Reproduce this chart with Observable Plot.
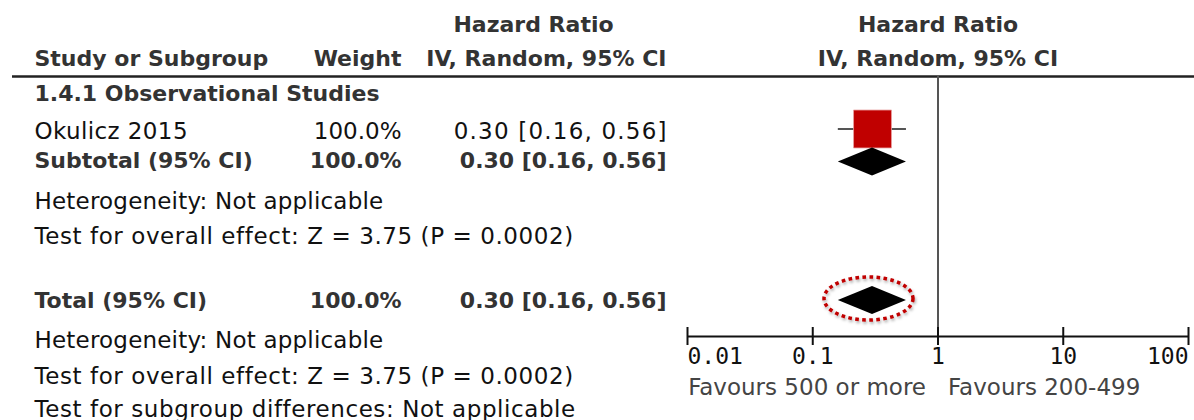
<!DOCTYPE html>
<html><head><meta charset="utf-8">
<script src="https://cdn.jsdelivr.net/npm/d3@7"></script>
<script src="https://cdn.jsdelivr.net/npm/@observablehq/plot@0.6"></script>
<style>
html,body{margin:0;padding:0;background:#fff;}
#chart svg{display:block;}
</style></head><body><div id="chart"></div>
<script>
// ---------- data ----------
const headerTitle = "Hazard Ratio";
const headerMethod = "IV, Random, 95% CI";
const headerStudy = "Study or Subgroup";
const headerWeight = "Weight";
const groupLabel = "1.4.1 Observational Studies";

const studyNames = ["Okulicz 2015"];
const studyWeights = ["100.0%"];
const studyHR = [0.30];
const studyLower = [0.16];
const studyUpper = [0.56];

const summaryNames = ["Subtotal (95% CI)", "Total (95% CI)"];
const summaryWeights = ["100.0%", "100.0%"];
const summaryHR = [0.30, 0.30];
const summaryLower = [0.16, 0.16];
const summaryUpper = [0.56, 0.56];

const heterogeneityText = "Heterogeneity: Not applicable";
const overallEffectText = "Test for overall effect: Z = 3.75 (P = 0.0002)";
const subgroupText = "Test for subgroup differences: Not applicable";

const axisTicks = [0.01, 0.1, 1, 10, 100];
const axisTickLabels = ["0.01", "0.1", "1", "10", "100"];
const favoursLeft = "Favours 500 or more";
const favoursRight = "Favours 200-499";

// ---------- layout (row positions & column offsets) ----------
const ROW = {head1: 24, head2: 58, rule: 76, group: 93, study: 131, studyMark: 128.5,
             subtotal: 160, subtotalMark: 161.5,
             het1: 201, test1: 236, total: 300, het2: 340, test2: 376, subgroup: 409,
             axis: 336, fav: 387};
const COL = {study: 34, weight: 401, ci: 666, hrHead: 533};
const DIAMOND_HALF = 14;
const BOLD = {fontWeight: "bold", fontSize: 22, fill: "#333"};
const NORM = {fontSize: 23, fill: "#111"};
const CI_SPACING = 1.2;

const fmt = (e, l, u) => `${e.toFixed(2)} [${l.toFixed(2)}, ${u.toFixed(2)}]`;
const studyIdx = d3.range(studyNames.length);
const summaryRows = [ROW.subtotal, ROW.total];
const summaryMarkRows = [ROW.subtotalMark, ROW.total];

const diamondPts = [];
summaryHR.forEach((e, i) => {
  diamondPts.push({id: i, x: summaryLower[i], h: 0, row: summaryMarkRows[i]});
  diamondPts.push({id: i, x: e, h: DIAMOND_HALF, row: summaryMarkRows[i]});
  diamondPts.push({id: i, x: summaryUpper[i], h: 0, row: summaryMarkRows[i]});
});

const ellipseSymbol = {
  draw(ctx) {
    const rx = 44.5, ry = 21.5, k = 0.5523;
    ctx.moveTo(rx, 0);
    ctx.bezierCurveTo(rx, ry * k, rx * k, ry, 0, ry);
    ctx.bezierCurveTo(-rx * k, ry, -rx, ry * k, -rx, 0);
    ctx.bezierCurveTo(-rx, -ry * k, -rx * k, -ry, 0, -ry);
    ctx.bezierCurveTo(rx * k, -ry, rx, -ry * k, rx, 0);
    ctx.closePath();
  }
};

const leftText = (text, row, style, anchor = "start", dx = COL.study) =>
  Plot.text([text], {text: d => d, y: row, frameAnchor: "left", textAnchor: anchor, dx, ...style});

const tickText = (filter, anchor) =>
  Plot.text(axisTicks.filter(filter), {x: d => d, y: ROW.axis, dy: 20, text: d => axisTickLabels[axisTicks.indexOf(d)], textAnchor: anchor, fontFamily: "DejaVu Sans Mono", fontSize: 23, fill: "#111"});

const plot = Plot.plot({
  width: 1194, height: 420,
  marginTop: 0, marginRight: 0, marginBottom: 0, marginLeft: 0,
  x: {type: "log", domain: [0.01, 100], range: [687, 1188], axis: null},
  y: {domain: [0, 420], range: [0, 420], axis: null},
  style: {fontFamily: "DejaVu Sans", background: "#fff", overflow: "visible"},
  marks: [
    // header rule
    Plot.ruleY([ROW.rule], {insetLeft: 12, stroke: "#222", strokeWidth: 2.5}),
    // line of no effect
    Plot.ruleX([1], {y1: ROW.rule, y2: ROW.axis, stroke: "#555", strokeWidth: 2}),
    // axis
    Plot.ruleY([ROW.axis], {x1: axisTicks[0], x2: axisTicks[axisTicks.length - 1], stroke: "#111", strokeWidth: 2}),
    Plot.ruleX(axisTicks, {x: d => d, y1: ROW.axis - 9, y2: ROW.axis + 9, stroke: "#111", strokeWidth: 2}),
    tickText((d, i) => i === 0, "start"),
    tickText((d, i) => i > 0 && i < axisTicks.length - 1, "middle"),
    tickText((d, i) => i === axisTicks.length - 1, "end"),
    Plot.text([favoursLeft], {x: 1, y: ROW.fav, text: d => d, textAnchor: "end", dx: -12, fontSize: 23, fill: "#444"}),
    Plot.text([favoursRight], {x: 1, y: ROW.fav, text: d => d, textAnchor: "start", dx: 10, fontSize: 23, fill: "#444"}),
    // study CI + square
    Plot.ruleY(studyIdx, {y: ROW.studyMark, x1: i => studyLower[i], x2: i => studyUpper[i], stroke: "#555", strokeWidth: 2}),
    Plot.dot(studyIdx, {x: i => studyHR[i], y: ROW.studyMark, symbol: "square", r: 21.4, fill: "#c00000", stroke: "#e8a0a0", strokeWidth: 0.8}),
    // diamonds
    Plot.areaY(diamondPts, {x: "x", y1: d => d.row - d.h, y2: d => d.row + d.h, z: "id", fill: "#000", curve: "linear"}),
    // highlight ellipse around total diamond
    Plot.dot([1], {x: i => summaryHR[i], y: ROW.total, dx: -4, dy: -2, symbol: ellipseSymbol, r: 10, fill: "none", stroke: "#c00000", strokeWidth: 3.5, strokeDasharray: "3.6 3.4"}),
    // right header
    Plot.text([headerTitle], {x: 1, y: ROW.head1, text: d => d, textAnchor: "middle", ...BOLD}),
    Plot.text([headerMethod], {x: 1, y: ROW.head2, text: d => d, textAnchor: "middle", ...BOLD}),
    // left headers
    leftText(headerTitle, ROW.head1, BOLD, "middle", COL.hrHead),
    leftText(headerStudy, ROW.head2, BOLD),
    leftText(headerWeight, ROW.head2, BOLD, "end", COL.weight),
    leftText(headerMethod, ROW.head2, BOLD, "end", COL.ci),
    leftText(groupLabel, ROW.group, BOLD),
    // study rows
    Plot.text(studyIdx, {text: i => studyNames[i], y: ROW.study, frameAnchor: "left", textAnchor: "start", dx: COL.study, ...NORM}),
    Plot.text(studyIdx, {text: i => studyWeights[i], y: ROW.study, frameAnchor: "left", textAnchor: "end", dx: COL.weight, ...NORM}),
    Plot.text(studyIdx, {text: i => fmt(studyHR[i], studyLower[i], studyUpper[i]), y: ROW.study, frameAnchor: "left", textAnchor: "end", dx: COL.ci + CI_SPACING, ...NORM}),
    // summary rows
    Plot.text([0, 1], {text: i => summaryNames[i], y: i => summaryRows[i], frameAnchor: "left", textAnchor: "start", dx: COL.study, ...BOLD}),
    Plot.text([0, 1], {text: i => summaryWeights[i], y: i => summaryRows[i], frameAnchor: "left", textAnchor: "end", dx: COL.weight, ...BOLD}),
    Plot.text([0, 1], {text: i => fmt(summaryHR[i], summaryLower[i], summaryUpper[i]), y: i => summaryRows[i], frameAnchor: "left", textAnchor: "end", dx: COL.ci, ...BOLD}),
    // notes
    leftText(heterogeneityText, ROW.het1, NORM),
    leftText(overallEffectText, ROW.test1, NORM),
    leftText(heterogeneityText, ROW.het2, NORM),
    leftText(overallEffectText, ROW.test2, NORM),
    leftText(subgroupText, ROW.subgroup, NORM)
  ]
});

const svg = d3.select(plot);
// letter spacing to match the reference's slightly wider regular font
const spacingFor = new Map([
  [fmt(studyHR[0], studyLower[0], studyUpper[0]), CI_SPACING],
  [studyNames[0], 0.4],
  [heterogeneityText, 0.2],
  [overallEffectText, 0.58],
  [subgroupText, 0.58]
]);
svg.selectAll("text").each(function() {
  if (this.getAttribute("font-weight") === "bold" || (this.parentNode && this.parentNode.getAttribute("font-weight") === "bold")) return;
  const v = spacingFor.get(this.textContent);
  if (v != null) this.style.letterSpacing = `${v}px`;
});
// drop shadow for the highlight ellipse
const defs = svg.insert("defs", ":first-child");
const f = defs.append("filter").attr("id", "ellShadow").attr("x", "-20%").attr("y", "-30%").attr("width", "140%").attr("height", "160%");
f.append("feDropShadow").attr("dx", 1).attr("dy", 2).attr("stdDeviation", 1.5).attr("flood-color", "#000").attr("flood-opacity", 0.35);
svg.selectAll("path").filter(function() { return this.getAttribute("stroke-dasharray"); }).attr("filter", "url(#ellShadow)");
svg.selectAll("g").filter(function() { return this.getAttribute("stroke-dasharray"); }).attr("filter", "url(#ellShadow)");

document.getElementById("chart").appendChild(plot);
</script>
</body></html>
